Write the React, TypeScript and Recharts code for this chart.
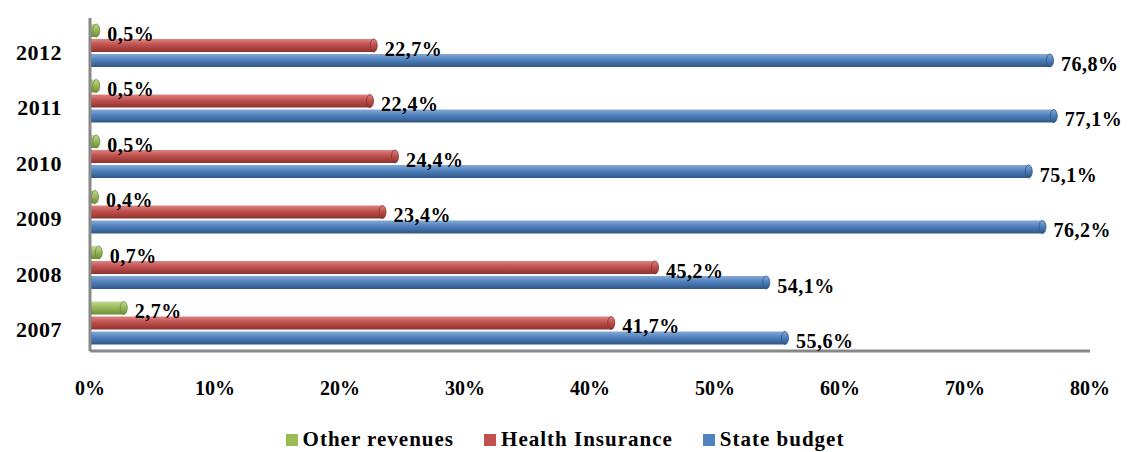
import React from 'react';
import { BarChart, Bar, XAxis, YAxis, Legend, LabelList } from 'recharts';

const years = ['2007', '2008', '2009', '2010', '2011', '2012'];
const otherRevenues = [2.7, 0.7, 0.4, 0.5, 0.5, 0.5];
const healthInsurance = [41.7, 45.2, 23.4, 24.4, 22.4, 22.7];
const stateBudget = [55.6, 54.1, 76.2, 75.1, 77.1, 76.8];
const xTicks = [0, 10, 20, 30, 40, 50, 60, 70, 80];

const data = years.map((year, i) => ({
  year,
  other: otherRevenues[i],
  health: healthInsurance[i],
  state: stateBudget[i],
}));

const FONT = '"Liberation Serif", "DejaVu Serif", serif';

const series = [
  { key: 'other', name: 'Other revenues', color: '#9BBB59', light: '#C3D69B', dark: '#6F8A38' },
  { key: 'health', name: 'Health Insurance', color: '#C0504D', light: '#DA8482', dark: '#8C3230' },
  { key: 'state', name: 'State budget', color: '#4F81BD', light: '#86A9D6', dark: '#2F5686' },
];

const fmt = (v: number) => v.toFixed(1).replace('.', ',') + '%';

// cylinder-ish bar: gradient body plus an elliptical cap at the end
const makeShape = (key: string, dark: string) => (props: any) => {
  const { x, y, width, height } = props;
  if (width == null || height == null) return null;
  const ry = height / 2;
  return (
    <g>
      <rect x={x} y={y} width={Math.max(width, 1)} height={height} fill={`url(#grad-${key})`} />
      <ellipse cx={x + width} cy={y + ry} rx={3.5} ry={ry} fill={`url(#grad-${key})`} stroke={dark} strokeWidth={0.8} />
    </g>
  );
};

const renderLabel = (props: any) => {
  const { x, y, width, height, value } = props;
  return (
    <text
      x={x + width + 11}
      y={y + height / 2 + 10}
      fontFamily={FONT}
      fontWeight="bold"
      fontSize={20}
      letterSpacing={0.5}
      fill="#000"
    >
      {fmt(value)}
    </text>
  );
};

const renderLegend = () => (
  <div style={{ display: 'flex', justifyContent: 'center', gap: 30, fontFamily: FONT, fontWeight: 'bold', fontSize: 21, letterSpacing: 1, paddingTop: 16, paddingLeft: 40 }}>
    {series.map((s) => (
      <span key={s.key} style={{ display: 'flex', alignItems: 'center' }}>
        <span style={{ display: 'inline-block', width: 12, height: 12, background: s.color, marginRight: 5 }} />
        {s.name}
      </span>
    ))}
  </div>
);

export default function App() {
  return (
    <div style={{ position: 'absolute', left: 0, top: 0, background: '#fff' }}>
      <BarChart
        width={1134}
        height={452}
        data={data}
        layout="vertical"
        margin={{ top: 18, right: 44, bottom: 0, left: 0 }}
        barSize={13}
        barGap={2}
      >
        <defs>
          {series.map((s) => (
            <linearGradient key={s.key} id={`grad-${s.key}`} x1="0" y1="0" x2="0" y2="1">
              <stop offset="0%" stopColor={s.light} />
              <stop offset="45%" stopColor={s.color} />
              <stop offset="100%" stopColor={s.dark} />
            </linearGradient>
          ))}
        </defs>
        <XAxis
          type="number"
          domain={[0, 80]}
          ticks={xTicks}
          tickFormatter={(v) => `${v}%`}
          axisLine={{ stroke: '#888', strokeWidth: 3 }}
          tickLine={false}
          tick={{ fontFamily: FONT, fontWeight: 'bold', fontSize: 20, fill: '#000', dy: 22 }}
          height={60}
        />
        <YAxis
          type="category"
          dataKey="year"
          reversed
          width={90}
          axisLine={{ stroke: '#888', strokeWidth: 3 }}
          tickLine={false}
          tick={{ fontFamily: FONT, fontWeight: 'bold', fontSize: 22, fill: '#000', dx: -20, dy: 6, letterSpacing: 0.5 }}
        />
        <Legend verticalAlign="bottom" height={41} content={renderLegend} />
        {series.map((s) => (
          <Bar
            key={s.key}
            dataKey={s.key}
            name={s.name}
            fill={s.color}
            isAnimationActive={false}
            shape={makeShape(s.key, s.dark)}
          >
            <LabelList dataKey={s.key} content={renderLabel} />
          </Bar>
        ))}
      </BarChart>
    </div>
  );
}
